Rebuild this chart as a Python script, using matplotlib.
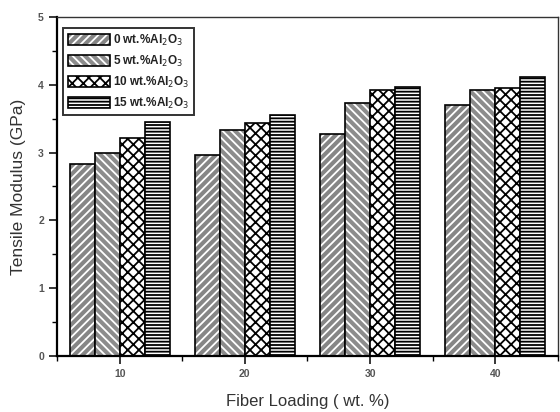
import matplotlib
matplotlib.use("Agg")
import matplotlib.pyplot as plt
import numpy as np
from matplotlib.legend_handler import HandlerTuple
from matplotlib.ticker import MultipleLocator

plt.rcParams['font.family'] = ['Liberation Sans', 'DejaVu Sans']
plt.rcParams['hatch.linewidth'] = 1.3

loading = [10, 20, 30, 40]
labels = ['0 wt.%Al$_2$O$_3$', '5 wt.%Al$_2$O$_3$', '10 wt.%Al$_2$O$_3$', '15 wt.%Al$_2$O$_3$']
al0 = [2.83, 2.96, 3.27, 3.70]
al5 = [3.00, 3.33, 3.73, 3.92]
al10 = [3.22, 3.44, 3.92, 3.95]
al15 = [3.45, 3.55, 3.97, 4.11]
series = [al0, al5, al10, al15]

faces = ['#868686', '#8c8c8c', 'white', 'white']
hcols = ['white', 'white', 'black', 'black']
hatches = ['////', '\\\\\\\\', 'xxx', '-----']

fig = plt.figure(figsize=(5.6, 4.12), dpi=100)
ax = fig.add_axes([0.102, 0.136, 0.894, 0.823])

x = np.array(loading, dtype=float)
w = 2.0
handles = []
for i, vals in enumerate(series):
    pos = x + (i - 1.5) * w
    b1 = ax.bar(pos, vals, width=w, color=faces[i], edgecolor=hcols[i],
                hatch=hatches[i], linewidth=0)
    b2 = ax.bar(pos, vals, width=w, facecolor='none', edgecolor='black',
                linewidth=1.2)
    handles.append((b1[0], b2[0]))

ax.set_xlim(5, 45)
ax.set_ylim(0, 5)
ax.set_xticks(loading)
ax.set_xticks([5, 15, 25, 35, 45], minor=True)
ax.yaxis.set_major_locator(MultipleLocator(1))
ax.yaxis.set_minor_locator(MultipleLocator(0.5))

ax.tick_params(axis='both', which='major', direction='out', length=6, width=1.1,
               labelsize=7.5, labelcolor='#555555', top=False, right=False)
ax.tick_params(axis='both', which='minor', direction='out', length=3.5, width=1.0,
               top=False, right=False)
for t in ax.get_xticklabels() + ax.get_yticklabels():
    t.set_fontweight('bold')

for s in ['left', 'bottom']:
    ax.spines[s].set_linewidth(1.6)
for s in ['top', 'right']:
    ax.spines[s].set_linewidth(1.0)
    ax.spines[s].set_color('#333333')

ax.set_xlabel('Fiber Loading ( wt. %)', fontsize=12, color='#333333', labelpad=11)
ax.set_ylabel('Tensile Modulus (GPa)', fontsize=12.5, color='#333333', labelpad=9)

leg = ax.legend(handles, labels, loc='upper left', handler_map={tuple: HandlerTuple(ndivide=1)},
                bbox_to_anchor=(0.0, 0.985),
                fontsize=8.5, frameon=True, fancybox=False, edgecolor='black',
                handlelength=3.6, handleheight=1.0, handletextpad=0.25,
                labelspacing=0.5, borderpad=0.4, borderaxespad=0.5)
leg.get_frame().set_linewidth(1.4)
for t in leg.get_texts():
    t.set_fontweight('bold')
    t.set_color('#222222')

fig.savefig('out.png', dpi=100)
